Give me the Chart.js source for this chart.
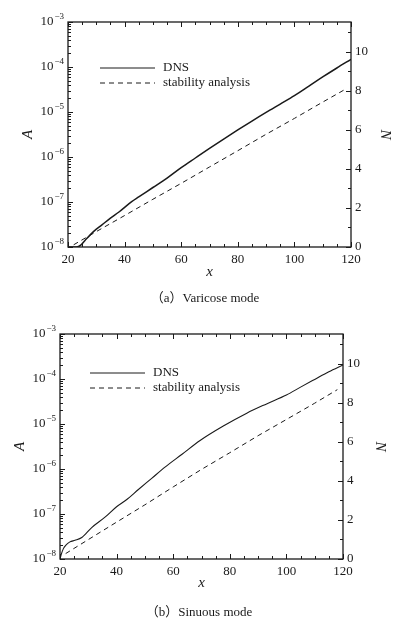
<!DOCTYPE html>
<html>
<head>
<meta charset="utf-8">
<script src="https://cdn.jsdelivr.net/npm/chart.js@4.4.1/dist/chart.umd.min.js"></script>
<style>
  body { margin: 0; background: #fff; }
  #page { position: relative; width: 396px; height: 632px; }
  .panel { position: absolute; left: 0; width: 396px; height: 316px; }
  .cap {
    position: absolute; transform: translateX(-50%); white-space: nowrap;
    font: 13px "Liberation Serif", "Noto Sans CJK SC", serif; line-height: 16px; color: #1a1a1a;
  }
</style>
</head>
<body>
<div id="page">
  <div class="panel" style="top:0"><canvas id="varicose" width="396" height="316"></canvas></div>
  <div class="cap" style="left:205px; top:290px">（a）Varicose mode</div>
  <div class="panel" style="top:316px"><canvas id="sinuous" width="396" height="316"></canvas></div>
  <div class="cap" style="left:199px; top:604px">（b）Sinuous mode</div>
</div>
<script>
// varicose mode: DNS amplitude and stability analysis
const varDnsX = [20, 23, 24.5, 26, 29, 32, 35, 38, 42.5, 45, 50, 55, 60, 65, 70, 75, 80, 85, 90, 95, 100, 105, 110, 115, 120];
const varDnsA = [1.0e-8, 1.0e-8, 1.1e-8, 1.4e-8, 2.2e-8, 3.1e-8, 4.4e-8, 6.0e-8, 1.02e-7, 1.3e-7, 2.1e-7, 3.4e-7, 5.8e-7, 9.5e-7,
                 1.55e-6, 2.5e-6, 4.0e-6, 6.3e-6, 9.8e-6, 1.5e-5, 2.3e-5, 3.7e-5, 6.0e-5, 9.5e-5, 1.48e-4];
const varLstX = [22, 30, 40, 50, 60, 70, 80, 90, 100, 110, 118];
const varLstA = [1.12e-8, 2.2e-8, 5.0e-8, 1.15e-7, 2.6e-7, 6.0e-7, 1.38e-6, 3.2e-6, 7.2e-6, 1.66e-5, 3.2e-5];

// sinuous mode
const sinDnsX = [20, 20.5, 21.2, 22, 23.5, 25.3, 27.7, 31.2, 35.9, 40, 43.6, 47.7, 52.4, 57.1, 63, 69.5, 77.7, 86, 93, 100, 105, 110, 115, 120];
const sinDnsA = [1.0e-8, 1.3e-8, 1.7e-8, 2.0e-8, 2.4e-8, 2.6e-8, 3.0e-8, 5.0e-8, 8.5e-8, 1.45e-7, 2.1e-7, 3.5e-7, 6.2e-7, 1.1e-6,
                 2.1e-6, 4.3e-6, 9.0e-6, 1.74e-5, 2.8e-5, 4.4e-5, 6.6e-5, 9.8e-5, 1.45e-4, 2.05e-4];
const sinLstX = [22, 30, 40, 50, 60, 70, 80, 90, 100, 110, 118];
const sinLstA = [1.32e-8, 2.7e-8, 6.6e-8, 1.6e-7, 4.0e-7, 9.8e-7, 2.3e-6, 5.5e-6, 1.26e-5, 2.9e-5, 5.8e-5];

// axes
const seriesLabels = ["DNS", "stability analysis"];
const xTicks = [20, 40, 60, 80, 100, 120];
const nTicks = [0, 2, 4, 6, 8, 10];
const aExps = [-8, -7, -6, -5, -4, -3];
const nMax = 11.513; // N = ln(A / 1e-8)

const INK = "#1a1a1a";
const SERIF = '"Liberation Serif", "Times New Roman", serif';

const pts = (xs, ys) => xs.map((x, i) => ({ x, y: ys[i] }));

// inward ticks, frame, left labels with exponents, legend inside the plot
const frame = {
    id: "frame",
    afterDatasetsDraw(chart, args, opts) {
        const { ctx, chartArea: a, scales } = chart;
        const xs = scales.x, ys = scales.y, ns = scales.n;
        const seg = (x1, y1, x2, y2) => {
            ctx.beginPath(); ctx.moveTo(x1, y1); ctx.lineTo(x2, y2); ctx.stroke();
        };
        ctx.save();
        ctx.strokeStyle = INK;
        ctx.fillStyle = INK;
        ctx.lineWidth = 1;

        for (let v = 20; v <= 120; v += 5) {
            const px = Math.round(xs.getPixelForValue(v)) + 0.5;
            const len = v % 20 === 0 ? 5 : 3;
            seg(px, a.bottom, px, a.bottom - len);
            seg(px, a.top, px, a.top + len);
        }
        aExps.forEach((e) => {
            for (let m = 1; m <= 9; m++) {
                if (e === -3 && m > 1) break;
                const py = Math.round(ys.getPixelForValue(m * Math.pow(10, e))) + 0.5;
                seg(a.left, py, a.left + (m === 1 ? 5 : 3), py);
            }
        });
        for (let v = 0; v <= 11; v++) {
            const py = Math.round(ns.getPixelForValue(v)) + 0.5;
            seg(a.right, py, a.right - (v % 2 === 0 ? 5 : 3), py);
        }

        ctx.lineWidth = 1.3;
        ctx.strokeRect(a.left, a.top, a.right - a.left, a.bottom - a.top);

        // 10^n labels on the left axis
        ctx.textBaseline = "middle";
        ctx.textAlign = "left";
        aExps.forEach((e) => {
            const py = ys.getPixelForValue(Math.pow(10, e));
            const sup = "\u2212" + Math.abs(e);
            ctx.font = `9px ${SERIF}`;
            const wSup = ctx.measureText(sup).width;
            ctx.font = `13px ${SERIF}`;
            const wBase = ctx.measureText("10").width;
            const xr = a.left - 4;
            ctx.fillText("10", xr - wSup - wBase - 1, py);
            ctx.font = `9px ${SERIF}`;
            ctx.fillText(sup, xr - wSup, py - 5);
        });

        // legend
        ctx.font = `13px ${SERIF}`;
        chart.data.datasets.forEach((ds, i) => {
            const y = a.top + opts.legY + i * 15;
            const x0 = a.left + opts.legX;
            ctx.lineWidth = 1;
            ctx.setLineDash(ds.borderDash || []);
            seg(x0, y, x0 + 55, y);
            ctx.setLineDash([]);
            ctx.fillText(ds.label, x0 + 63, y);
        });
        ctx.restore();
    },
};

function makeChart(id, dns, lst, lay) {
    const tickFont = { family: SERIF, size: 13 };
    const titleFont = { family: SERIF, size: 15, style: "italic" };
    return new Chart(document.getElementById(id), {
        type: "line",
        data: {
            datasets: [
                {
                    label: seriesLabels[0], data: dns, borderColor: INK, borderWidth: lay.dnsWidth,
                    pointRadius: 0, cubicInterpolationMode: "monotone",
                },
                {
                    label: seriesLabels[1], data: lst, borderColor: INK, borderWidth: 1,
                    borderDash: [5, 4], pointRadius: 0,
                },
            ],
        },
        options: {
            responsive: false,
            animation: false,
            events: [],
            layout: { padding: { top: lay.top, left: 0, right: 0, bottom: 0 } },
            plugins: {
                legend: { display: false },
                tooltip: { enabled: false },
                frame: { legX: lay.legX, legY: lay.legY },
            },
            scales: {
                x: {
                    type: "linear", min: 20, max: 120,
                    afterBuildTicks: (s) => { s.ticks = xTicks.map((v) => ({ value: v })); },
                    afterFit: (s) => { s.height = lay.xh; },
                    grid: { display: false, drawTicks: false },
                    border: { display: false },
                    ticks: { color: INK, font: tickFont, padding: 5, maxRotation: 0, autoSkip: false },
                    title: { display: true, text: "x", color: INK, font: titleFont, padding: { top: 0, bottom: lay.xTitle } },
                },
                y: {
                    type: "logarithmic", position: "left", min: 1e-8, max: 1e-3,
                    afterFit: (s) => { s.width = lay.left; },
                    grid: { display: false, drawTicks: false },
                    border: { display: false },
                    ticks: { display: false },
                    title: { display: true, text: "A", color: INK, font: titleFont, padding: { top: lay.aTitle, bottom: 0 } },
                },
                n: {
                    type: "linear", position: "right", display: true, min: 0, max: nMax,
                    afterBuildTicks: (s) => { s.ticks = nTicks.map((v) => ({ value: v })); },
                    afterFit: (s) => { s.width = lay.right; },
                    grid: { display: false, drawTicks: false },
                    border: { display: false },
                    ticks: { color: INK, font: tickFont, padding: 4, autoSkip: false },
                    title: { display: true, text: "N", color: INK, font: titleFont, padding: { top: lay.nTitle, bottom: 0 } },
                },
            },
        },
        plugins: [frame],
    });
}

makeChart("varicose", pts(varDnsX, varDnsA), pts(varLstX, varLstA), {
    top: 22, xh: 69, left: 68, right: 45, dnsWidth: 1.5,
    xTitle: 35, aTitle: 19, nTitle: 2, legX: 32, legY: 46,
});
makeChart("sinuous", pts(sinDnsX, sinDnsA), pts(sinLstX, sinLstA), {
    top: 18, xh: 73, left: 60, right: 53, dnsWidth: 1.1,
    xTitle: 40, aTitle: 11, nTitle: 7, legX: 30, legY: 39,
});
</script>
</body>
</html>
